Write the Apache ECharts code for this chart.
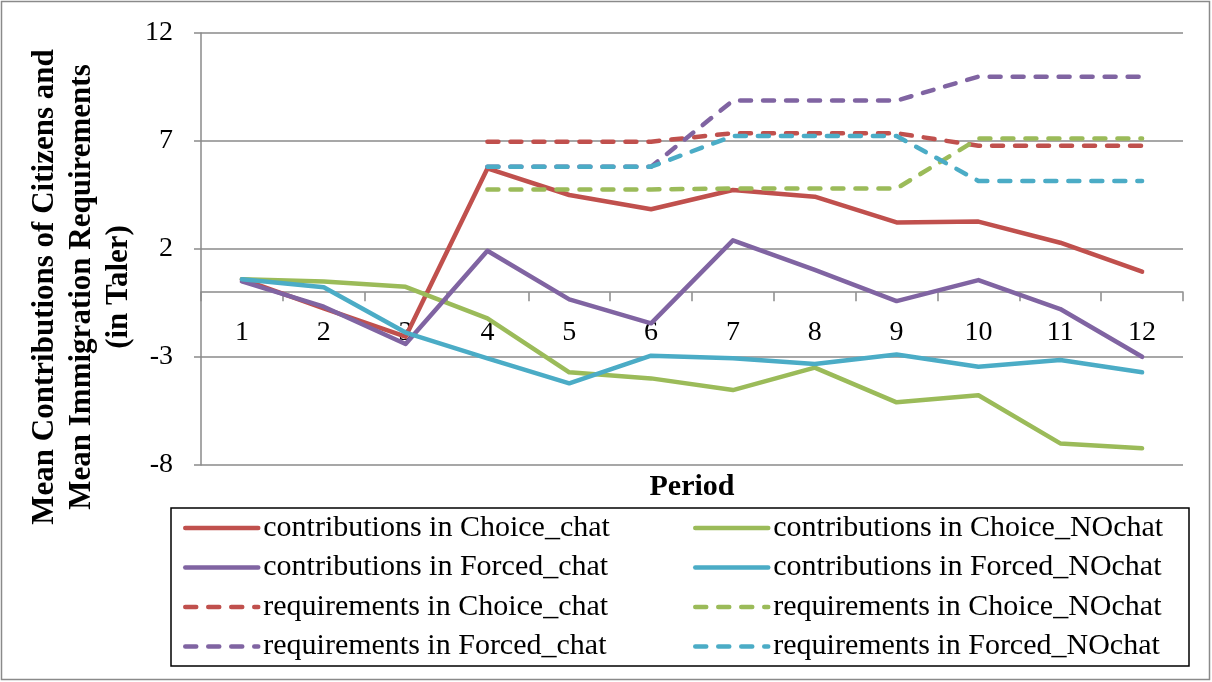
<!DOCTYPE html>
<html>
<head>
<meta charset="utf-8">
<script src="https://cdn.jsdelivr.net/npm/echarts@6/dist/echarts.min.js"></script>
<style>
  html, body { margin: 0; padding: 0; background: #fff; }
  #chart { width: 1212px; height: 682px; }
</style>
</head>
<body>
<div id="chart"></div>
<script>
// Periods of the experiment
const periods = ['1', '2', '3', '4', '5', '6', '7', '8', '9', '10', '11', '12'];

// Mean contributions of citizens per treatment (Taler)
const contribChoiceChat   = [0.60, -0.75, -2.06, 5.73, 4.50, 3.84, 4.73, 4.42, 3.23, 3.27, 2.29, 0.95];
const contribChoiceNOchat = [0.60, 0.49, 0.25, -1.21, -3.71, -3.99, -4.53, -3.49, -5.10, -4.77, -7.00, -7.23];
const contribForcedChat   = [0.50, -0.67, -2.40, 1.92, -0.33, -1.44, 2.40, 1.03, -0.41, 0.56, -0.78, -2.99];
const contribForcedNOchat = [0.60, 0.23, -1.87, -3.06, -4.22, -2.94, -3.06, -3.32, -2.88, -3.45, -3.14, -3.71];

// Mean immigration requirements per treatment (set from period 4 on)
const reqChoiceChat   = [null, null, null, 6.97, 6.97, 6.97, 7.36, 7.36, 7.36, 6.78, 6.78, 6.78];
const reqChoiceNOchat = [null, null, null, 4.76, 4.76, 4.76, 4.80, 4.80, 4.80, 7.11, 7.11, 7.11];
const reqForcedChat   = [null, null, null, 5.81, 5.81, 5.81, 8.87, 8.87, 8.87, 9.98, 9.98, 9.98];
const reqForcedNOchat = [null, null, null, 5.81, 5.81, 5.81, 7.23, 7.23, 7.23, 5.15, 5.15, 5.15];

// Value axis ticks
const yMin = -8, yMax = 12, yStep = 5;

const FONT = "'Liberation Serif', 'Times New Roman', serif";
const GRID_GRAY = '#8a8a8a';
const RED = '#C0504D', GREEN = '#9BBB59', PURPLE = '#8064A2', CYAN = '#4BACC6';

const dash = [11, 12];

function lineSeries(name, data, color, dashed) {
  return {
    name: name,
    type: 'line',
    data: data,
    symbol: 'none',
    connectNulls: false,
    itemStyle: { color: color },
    lineStyle: {
      color: color,
      width: 4.5,
      type: dashed ? dash : 'solid',
      cap: 'round',
      join: 'round'
    },
    emphasis: { disabled: true }
  };
}

const series = [
  lineSeries('contributions in Choice_chat', contribChoiceChat, RED, false),
  lineSeries('contributions in Choice_NOchat', contribChoiceNOchat, GREEN, false),
  lineSeries('contributions in Forced_chat', contribForcedChat, PURPLE, false),
  lineSeries('contributions in Forced_NOchat', contribForcedNOchat, CYAN, false),
  lineSeries('requirements in Choice_chat', reqChoiceChat, RED, true),
  lineSeries('requirements in Choice_NOchat', reqChoiceNOchat, GREEN, true),
  lineSeries('requirements in Forced_chat', reqForcedChat, PURPLE, true),
  lineSeries('requirements in Forced_NOchat', reqForcedNOchat, CYAN, true)
];

function legendColumn(names, left) {
  return {
    data: names,
    orient: 'vertical',
    left: left,
    top: 513,
    padding: 0,
    itemWidth: 73,
    itemHeight: 14,
    itemGap: 9.5,
    selectedMode: false,
    itemStyle: { opacity: 0 },
    lineStyle: { width: 4.5, cap: 'round' },
    textStyle: { fontFamily: FONT, fontSize: 30, lineHeight: 30, color: '#000' }
  };
}

const chart = echarts.init(document.getElementById('chart'), null, { renderer: 'canvas' });

chart.setOption({
  animation: false,
  backgroundColor: '#fff',
  grid: { left: 201, top: 33, width: 982, height: 432, containLabel: false },
  xAxis: {
    type: 'category',
    data: periods,
    boundaryGap: true,
    axisLine: { onZero: true, lineStyle: { color: GRID_GRAY, width: 1.5 } },
    axisTick: { show: true, length: 9, lineStyle: { color: GRID_GRAY, width: 1.5 } },
    // period labels sit just under the zero line
    axisLabel: { fontFamily: FONT, fontSize: 28, color: '#000', margin: -146 },
    splitLine: { show: false }
  },
  yAxis: {
    type: 'value',
    min: yMin,
    max: yMax,
    interval: yStep,
    axisLine: { show: true, onZero: false, lineStyle: { color: GRID_GRAY, width: 1.5 } },
    axisTick: { show: true, length: 7, lineStyle: { color: GRID_GRAY, width: 1.5 } },
    axisLabel: { fontFamily: FONT, fontSize: 28, color: '#000', margin: 28 },
    splitLine: { show: true, lineStyle: { color: GRID_GRAY, width: 1.5 } }
  },
  legend: [
    legendColumn(['contributions in Choice_chat', 'contributions in Forced_chat',
                  'requirements in Choice_chat', 'requirements in Forced_chat'], 183),
    legendColumn(['contributions in Choice_NOchat', 'contributions in Forced_NOchat',
                  'requirements in Choice_NOchat', 'requirements in Forced_NOchat'], 693)
  ],
  graphic: [
    {
      type: 'rect',
      silent: true,
      shape: { x: 1.5, y: 1.5, width: 1208, height: 678 },
      style: { fill: 'none', stroke: GRID_GRAY, lineWidth: 1.5 }
    },
    {
      type: 'rect',
      silent: true,
      shape: { x: 171, y: 508, width: 1018, height: 158 },
      style: { fill: 'none', stroke: '#000', lineWidth: 1.5 }
    },
    {
      type: 'text',
      silent: true,
      x: 692, y: 487,
      style: {
        text: 'Period',
        x: 0, y: 0,
        align: 'center', verticalAlign: 'middle',
        font: 'bold 30px ' + FONT,
        fill: '#000'
      }
    },
    {
      type: 'text',
      silent: true,
      x: 82, y: 287,
      rotation: Math.PI / 2,
      style: {
        text: 'Mean Contributions of Citizens and\nMean Immigration Requirements\n(in Taler)',
        x: 0, y: 0,
        align: 'center', verticalAlign: 'middle',
        font: 'bold 31px ' + FONT,
        lineHeight: 37,
        fill: '#000'
      }
    }
  ],
  series: series
});
</script>
</body>
</html>
